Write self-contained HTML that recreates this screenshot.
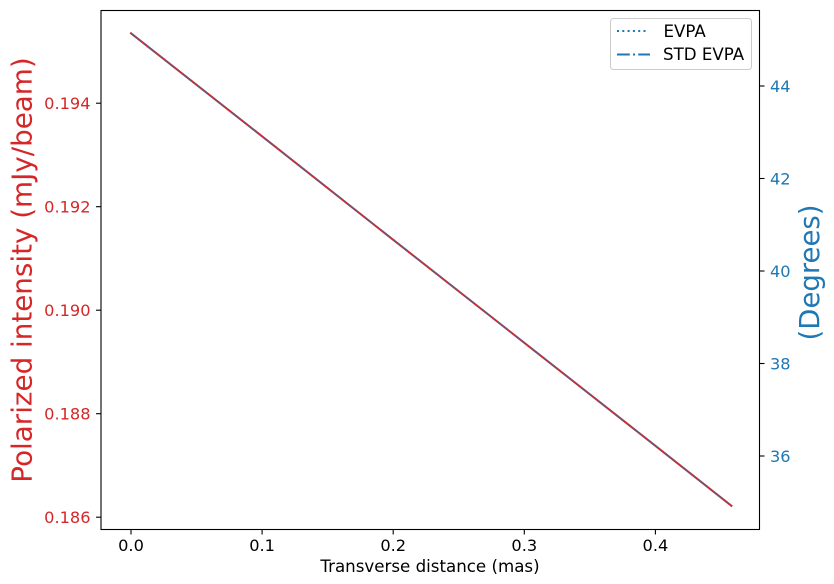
<!DOCTYPE html>
<html>
<head>
<meta charset="utf-8">
<title>Polarized intensity and EVPA profile</title>
<style>
html,body{margin:0;padding:0;background:#fff;}
body{width:834px;height:584px;overflow:hidden;}
svg{display:block;font-family:"DejaVu Sans","Liberation Sans",sans-serif;}
</style>
</head>
<body>
<svg id="chart" width="834" height="584" viewBox="0 0 834 584" xmlns="http://www.w3.org/2000/svg">
  <rect x="0" y="0" width="834" height="584" fill="#ffffff"/>
  <g id="series"></g>
  <g id="ticks"></g>
  <rect x="101" y="10.5" width="658.5" height="519" fill="none" stroke="#000" stroke-width="1.1"/>
  <text x="430" y="572" font-size="16.67" text-anchor="middle" fill="#000">Transverse distance (mas)</text>
  <text transform="translate(31.5,270) rotate(-90)" font-size="27.78" text-anchor="middle" fill="#d62728">Polarized intensity (mJy/beam)</text>
  <text transform="translate(819,272.5) rotate(-90)" font-size="27.5" text-anchor="middle" fill="#1f77b4">(Degrees)</text>
  <g>
    <rect x="610.5" y="18.5" width="141" height="51" rx="3" fill="#ffffff" fill-opacity="0.8" stroke="#cccccc" stroke-width="1"/>
    <line x1="617" y1="31" x2="648" y2="31" stroke="#1f77b4" stroke-width="2" stroke-dasharray="2 3.3"/>
    <text x="663.5" y="37" font-size="16.67" fill="#000">EVPA</text>
    <line x1="617" y1="54.5" x2="650" y2="54.5" stroke="#1f77b4" stroke-width="2" stroke-dasharray="12.8 3.2 2 3.2"/>
    <text x="663" y="60" font-size="16.67" fill="#000">STD EVPA</text>
  </g>
</svg>
<script>
const distances = [0, 0.1, 0.2, 0.3, 0.4, 0.458];
const polarizedIntensity = [0.19535, 0.19336, 0.19136, 0.18937, 0.18738, 0.18622];
const evpa = [45.137, 42.908, 40.679, 38.448, 36.218, 34.925];
const stdEvpa = [45.137, 42.908, 40.679, 38.448, 36.218, 34.925];
const xTickValues = [0, 0.1, 0.2, 0.3, 0.4];
const xTickLabels = ['0.0', '0.1', '0.2', '0.3', '0.4'];
const leftTickValues = [0.186, 0.188, 0.190, 0.192, 0.194];
const leftTickLabels = ['0.186', '0.188', '0.190', '0.192', '0.194'];
const rightTickValues = [36, 38, 40, 42, 44];
const rightTickLabels = ['36', '38', '40', '42', '44'];

function xScale(v) { return 131 + v * 1311; }
function leftScale(v) { return 517.2 - (v - 0.186) * 51750; }
function rightScale(v) { return 456 - (v - 36) * 46.25; }

const NS = 'http://www.w3.org/2000/svg';
const seriesGroup = document.getElementById('series');
const tickGroup = document.getElementById('ticks');

function pathFrom(ys, scale) {
  return ys.map(function (y, i) {
    return (i ? 'L' : 'M') + xScale(distances[i]).toFixed(2) + ' ' + scale(y).toFixed(2);
  }).join(' ');
}

const redLine = document.createElementNS(NS, 'path');


redLine.setAttribute('d', pathFrom(polarizedIntensity, leftScale));
redLine.setAttribute('fill', 'none');
redLine.setAttribute('stroke', '#d62728');
redLine.setAttribute('stroke-width', '2');
redLine.setAttribute('stroke-linecap', 'square');
seriesGroup.appendChild(redLine);

const evpaLine = document.createElementNS(NS, 'path');


evpaLine.setAttribute('d', pathFrom(evpa, rightScale));
evpaLine.setAttribute('fill', 'none');
evpaLine.setAttribute('stroke', '#1f77b4');
evpaLine.setAttribute('stroke-width', '1.8');
evpaLine.setAttribute('stroke-opacity', '0.4');
evpaLine.setAttribute('stroke-dasharray', '2 3.3');
seriesGroup.appendChild(evpaLine);

const stdLine = document.createElementNS(NS, 'path');


stdLine.setAttribute('d', pathFrom(stdEvpa, rightScale));
stdLine.setAttribute('fill', 'none');
stdLine.setAttribute('stroke', '#1f77b4');
stdLine.setAttribute('stroke-width', '1.8');
stdLine.setAttribute('stroke-opacity', '0.4');
stdLine.setAttribute('stroke-dasharray', '12.8 3.2 2 3.2');
seriesGroup.appendChild(stdLine);

function addTick(x1, y1, x2, y2, tx, ty, anchor, label, color, name) {
  const tick = document.createElementNS(NS, 'line');
  
  
  tick.setAttribute('x1', x1);
  tick.setAttribute('y1', y1);
  tick.setAttribute('x2', x2);
  tick.setAttribute('y2', y2);
  tick.setAttribute('stroke', '#000');
  tick.setAttribute('stroke-width', '1.1');
  tickGroup.appendChild(tick);
  const text = document.createElementNS(NS, 'text');
  
  
  text.setAttribute('x', tx);
  text.setAttribute('y', ty);
  text.setAttribute('text-anchor', anchor);
  text.setAttribute('font-size', '16.2');
  text.setAttribute('fill', color);
  text.textContent = label;
  tickGroup.appendChild(text);
}

xTickValues.forEach(function (v, i) {
  const x = xScale(v);
  addTick(x, 529.5, x, 534.5, x, 551, 'middle', xTickLabels[i], '#000', 'x-axis');
});
leftTickValues.forEach(function (v, i) {
  const y = leftScale(v);
  addTick(101, y, 96, y, 90.5, y + 6, 'end', leftTickLabels[i], '#d62728', 'left-y-axis');
});
rightTickValues.forEach(function (v, i) {
  const y = rightScale(v);
  addTick(759.5, y, 764.5, y, 770, y + 6, 'start', rightTickLabels[i], '#1f77b4', 'right-y-axis');
});
</script>
</body>
</html>
